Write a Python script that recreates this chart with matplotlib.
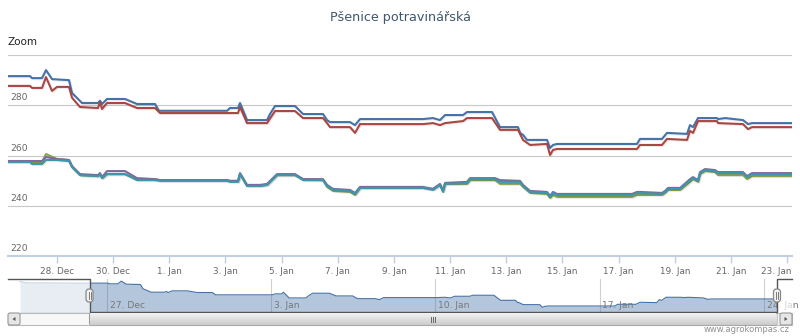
import datetime as dt
import matplotlib
matplotlib.use("Agg")
import matplotlib.pyplot as plt
import matplotlib.patheffects as pe
import matplotlib.transforms as mtransforms
from matplotlib.patches import Rectangle, FancyBboxPatch, Polygon
import numpy as np

plt.rcParams['font.family'] = ['DejaVu Sans']

# data: x = days since 26 Dec, y = price
title = "Pšenice potravinářská"
start = dt.date(2012, 12, 26)

blue_days = [0.255, 1.038, 1.110, 1.466, 1.608, 1.822, 2.427, 2.534, 2.712, 2.890,
             3.460, 3.531, 3.603, 3.781, 4.422, 4.849, 5.490, 5.632, 8.054, 8.161,
             8.446, 8.517, 8.766, 9.479, 9.585, 9.764, 10.476, 10.583, 10.761, 11.473,
             11.615, 11.722, 12.434, 12.613, 12.791, 15.034, 15.390, 15.640, 15.746, 15.818,
             16.459, 16.601, 17.491, 17.776, 18.417, 18.489, 18.595, 18.738, 19.450, 19.557,
             19.664, 19.806, 22.655, 22.762, 23.545, 23.724, 24.436, 24.543, 24.650, 24.828,
             25.504, 25.540, 25.789, 26.430, 26.608, 26.751, 28.175]
blue_vals = [291.6, 291.6, 290.8, 290.8, 294.0, 290.4, 290.0, 284.9, 282.9, 280.9,
             280.9, 281.8, 280.5, 282.5, 282.5, 280.5, 280.5, 277.8, 277.8, 278.9,
             278.9, 280.9, 274.1, 274.1, 276.5, 279.7, 279.7, 278.5, 276.5, 276.5,
             274.1, 273.3, 273.3, 272.1, 274.5, 274.5, 274.9, 274.1, 275.3, 276.1,
             276.1, 277.3, 277.3, 271.3, 271.3, 269.0, 268.2, 266.2, 266.2, 263.0,
             264.2, 264.6, 264.6, 266.6, 266.6, 269.0, 268.6, 272.1, 271.3, 274.9,
             274.9, 274.5, 274.9, 274.1, 272.5, 272.9, 272.9]

red_days = [0.255, 1.038, 1.110, 1.466, 1.608, 1.822, 2.0, 2.427, 2.534, 2.819,
            3.460, 3.531, 3.603, 3.781, 4.422, 4.849, 5.490, 5.668, 8.446, 8.517,
            8.766, 9.479, 9.764, 10.476, 10.761, 11.473, 11.615, 11.722, 12.434, 12.613,
            12.791, 15.034, 15.390, 15.640, 15.818, 16.459, 16.601, 17.491, 17.776, 18.417,
            18.595, 18.845, 19.450, 19.557, 19.664, 19.806, 22.655, 22.762, 23.545, 23.724,
            24.436, 24.543, 24.650, 24.828, 25.504, 25.540, 26.430, 26.608, 26.751, 28.175]
red_vals = [287.7, 287.7, 286.9, 286.9, 291.2, 285.7, 287.3, 287.3, 283.0, 279.3,
            278.9, 281.3, 278.5, 280.9, 280.9, 278.9, 278.9, 276.9, 276.9, 279.3,
            272.9, 272.9, 277.7, 277.7, 274.9, 274.9, 272.9, 271.3, 271.3, 269.0,
            272.5, 272.5, 272.9, 272.1, 272.9, 273.7, 274.9, 274.9, 270.2, 270.2,
            266.2, 264.2, 264.6, 260.2, 262.2, 262.6, 262.6, 264.2, 264.2, 266.6,
            266.2, 269.8, 269.0, 273.7, 273.7, 272.9, 272.5, 270.5, 271.3, 271.3]

low_days = [0.255, 1.038, 1.110, 1.466, 1.608, 2.0, 2.427, 2.534,
            2.819, 3.460, 3.531, 3.603, 3.781, 4.422, 4.849, 5.490,
            5.668, 8.054, 8.161, 8.446, 8.517, 8.766, 9.229, 9.479,
            9.835, 10.476, 10.761, 11.473, 11.615, 11.829, 12.434, 12.613,
            12.791, 15.034, 15.390, 15.640, 15.746, 15.818, 16.601, 16.708,
            17.598, 17.776, 18.489, 18.595, 18.845, 19.450, 19.557, 19.664,
            19.806, 22.477, 22.655, 22.762, 23.545, 23.652, 23.760, 24.187,
            24.543, 24.650, 24.828, 24.899, 25.077, 25.433, 25.540, 26.430,
            26.573, 26.751, 28.175]
green_vals = [257.8, 257.8, 257.4, 257.4, 260.6, 258.6, 258.2, 255.4,
              252.2, 251.8, 252.6, 251.0, 252.6, 252.6, 250.6, 250.6,
              250.2, 250.2, 249.9, 249.9, 252.6, 247.9, 247.9, 248.3,
              252.2, 252.2, 250.6, 250.2, 247.5, 245.9, 245.5, 244.3,
              247.1, 247.1, 246.7, 248.3, 245.9, 248.7, 248.7, 250.2,
              250.2, 248.7, 248.7, 247.5, 245.1, 244.7, 243.1, 244.3,
              243.5, 243.5, 244.3, 244.3, 244.3, 245.1, 246.3, 246.3,
              249.5, 250.6, 249.5, 252.6, 253.8, 253.4, 252.2, 252.2,
              250.6, 251.8, 251.8]
purple_vals = [257.8, 257.8, 257.8, 257.8, 259.4, 258.6, 258.2, 255.8,
               252.6, 252.2, 253.0, 251.4, 253.8, 253.8, 251.0, 250.6,
               250.2, 250.2, 249.9, 249.9, 253.0, 248.3, 248.3, 248.7,
               252.6, 252.6, 250.6, 250.6, 248.3, 246.7, 246.3, 245.1,
               247.5, 247.5, 246.7, 248.7, 245.9, 249.1, 249.5, 251.0,
               251.0, 250.2, 249.9, 248.3, 245.9, 245.5, 243.9, 245.5,
               244.7, 244.7, 245.5, 245.5, 245.1, 245.9, 247.1, 247.1,
               250.6, 251.4, 250.2, 253.4, 254.6, 254.2, 253.4, 253.4,
               251.8, 253.0, 253.0]
teal_vals = [257.4, 257.4, 256.6, 256.6, 258.2, 258.2, 257.8, 255.4,
             252.2, 251.8, 252.6, 251.0, 252.6, 252.6, 250.2, 250.2,
             249.9, 249.9, 249.5, 249.5, 252.6, 247.9, 247.9, 248.3,
             252.2, 252.2, 250.2, 250.2, 247.9, 246.3, 245.9, 244.7,
             247.1, 247.1, 246.3, 248.3, 245.5, 248.7, 249.1, 250.6,
             250.6, 249.5, 249.5, 247.9, 245.5, 245.1, 243.5, 245.1,
             244.3, 244.3, 245.1, 245.1, 244.7, 245.5, 246.7, 246.7,
             250.2, 251.0, 249.9, 253.0, 254.2, 253.8, 253.0, 253.0,
             251.4, 252.6, 252.6]

# navigator shows the first series over a longer period
nav_lead_days = [-2.71, -2.45, 0.0]
nav_lead_vals = [293.5, 292.0, 291.6]
nav_end = 29.56
nav_range = (-3.22, 30.2)
nav_ylim = (257.5, 296.5)

y_ticks = [220, 240, 260, 280, 300]
x_tick_days = list(range(2, 29, 2))
nav_tick_days = [1, 8, 15, 22, 29]

colors = ['#4572A7', '#AA4643', '#89A54E', '#80699B', '#3D96AE']


def day_label(d):
    t = start + dt.timedelta(days=int(d))
    return f"{t.day}. {t.strftime('%b')}"


W, H = 800, 336
fig = plt.figure(figsize=(W / 100, H / 100), dpi=100)


def px_axes(x0, y0, x1, y1):
    return fig.add_axes([x0 / W, 1 - y1 / H, (x1 - x0) / W, (y1 - y0) / H])


# main chart
ax = px_axes(8, 55, 792, 256)
ax.set_xlim(blue_days[0], blue_days[-1])
ax.set_ylim(y_ticks[0], y_ticks[-1])
ax.set_yticks(y_ticks)
ax.yaxis.grid(True, color='#C8C8C8', lw=0.8)
ax.tick_params(axis='y', length=0, labelleft=False)
for v in y_ticks[:-1]:
    ax.annotate(str(v), (0, v), xycoords=ax.get_yaxis_transform(),
                xytext=(1.5, 2), textcoords='offset points',
                ha='left', va='bottom', fontsize=6.6, color='#666666')

ax.set_xticks(x_tick_days)
ax.set_xticklabels([day_label(d) for d in x_tick_days])
ax.tick_params(axis='x', length=5, width=1, color='#C0D0E0',
               labelcolor='#666666', labelsize=6.4, pad=3)
# keep the last label inside the chart
last = ax.get_xticklabels()[-1]
last.set_ha('right')
last.set_transform(last.get_transform() + mtransforms.ScaledTranslation(3 / 72, 0, fig.dpi_scale_trans))
for s in ['top', 'left', 'right']:
    ax.spines[s].set_visible(False)
ax.spines['bottom'].set_color('#C0D0E0')
ax.spines['bottom'].set_linewidth(1.5)

shadow = [pe.SimpleLineShadow(offset=(0.8, -0.8), alpha=0.08, shadow_color='black'), pe.Normal()]
series = [(blue_days, blue_vals), (red_days, red_vals), (low_days, green_vals),
          (low_days, purple_vals), (low_days, teal_vals)]
for (xs, ys), c in zip(series, colors):
    ax.plot(xs, ys, color=c, lw=1.5, solid_joinstyle='round', path_effects=shadow, zorder=3)

# navigator
nav = px_axes(8, 279, 792, 312)
nav.set_xlim(*nav_range)
nav.set_ylim(*nav_ylim)
nav.axis('off')
nav_days = nav_lead_days + blue_days + [nav_end]
nav_vals = nav_lead_vals + blue_vals + [blue_vals[-1]]
nav.fill_between(nav_days, nav_vals, nav_ylim[0], color=colors[0], alpha=0.4, lw=0)
nav.plot(nav_days, nav_vals, color=colors[0], lw=0.8)
for d in nav_tick_days:
    nav.axvline(d, color='#D0D0D0', lw=0.8, zorder=0.5)
    nav.annotate(day_label(d), (d, 0.2), xycoords=nav.get_xaxis_transform(),
                 xytext=(2, 0), textcoords='offset points', ha='left', va='center',
                 fontsize=6.6, color='#777777')
sel0, sel1 = blue_days[0], nav_end
nav.axvspan(nav_range[0], sel0, color='white', alpha=0.7, lw=0, zorder=4)
nav.axvspan(sel1, nav_range[1], color='white', alpha=0.7, lw=0, zorder=4)


def nav_px(d):
    return 8 + (d - nav_range[0]) / (nav_range[1] - nav_range[0]) * 784


# overlay in pixel units for outline, handles, scrollbar
ov = fig.add_axes([0, 0, 1, 1])
ov.set_xlim(0, W)
ov.set_ylim(H, 0)
ov.axis('off')
p0, p1 = nav_px(sel0), nav_px(sel1)
ov.plot([8, p0, p0, p1, p1, 792], [279, 279, 312, 312, 279, 279], color='#555555', lw=1)

# scrollbar
ov.add_patch(Rectangle((8, 313), 784, 12, fc='#F7F7F7', ec='#BBBBBB', lw=0.8))
thumb = FancyBboxPatch((p0, 313), p1 - p0, 12, boxstyle='round,pad=0,rounding_size=2',
                       fc='#DDDDDD', ec='#999999', lw=0.8)
ov.add_patch(thumb)
grad = np.linspace(0, 1, 20).reshape(-1, 1)
im = ov.imshow(grad, extent=(p0, p1, 325, 313), cmap=plt.matplotlib.colors.LinearSegmentedColormap.from_list(
    'g', ['#F2F2F2', '#CCCCCC']), aspect='auto', zorder=2)
im.set_clip_path(thumb)
ov.set_xlim(0, W)
ov.set_ylim(H, 0)
mid = (p0 + p1) / 2
for dx in (-2, 0, 2):
    ov.plot([mid + dx, mid + dx], [316.5, 321.5], color='#666666', lw=0.7, zorder=3)
for bx, direction in ((8, -1), (780, 1)):
    ov.add_patch(FancyBboxPatch((bx, 313), 12, 12, boxstyle='round,pad=0,rounding_size=2',
                                fc='#E6E6E6', ec='#999999', lw=0.8, zorder=3))
    cx = bx + 6
    ov.add_patch(Polygon([(cx + 1.5 * direction, 319), (cx - 1.5 * direction, 317),
                          (cx - 1.5 * direction, 321)], closed=True, fc='#555555', lw=0, zorder=4))

# handles
for hx in (p0, p1):
    ov.add_patch(FancyBboxPatch((hx - 3.5, 289), 7, 13, boxstyle='round,pad=0,rounding_size=3',
                                fc='#F2F2F2', ec='#888888', lw=0.9, zorder=5))
    for dx in (-1, 1):
        ov.plot([hx + dx, hx + dx], [292, 299], color='#666666', lw=0.6, zorder=6)

# texts
fig.text(0.5, 1 - 17 / H, title, ha='center', va='center', fontsize=9.2, color='#3E576F')
fig.text(8 / W, 1 - 42 / H, 'Zoom', ha='left', va='center', fontsize=7.5, color='#222222')
fig.text(790 / W, 1 - 329 / H, 'www.agrokompas.cz', ha='right', va='center',
         fontsize=6, color='#909090')

fig.savefig('out.png', dpi=100)
